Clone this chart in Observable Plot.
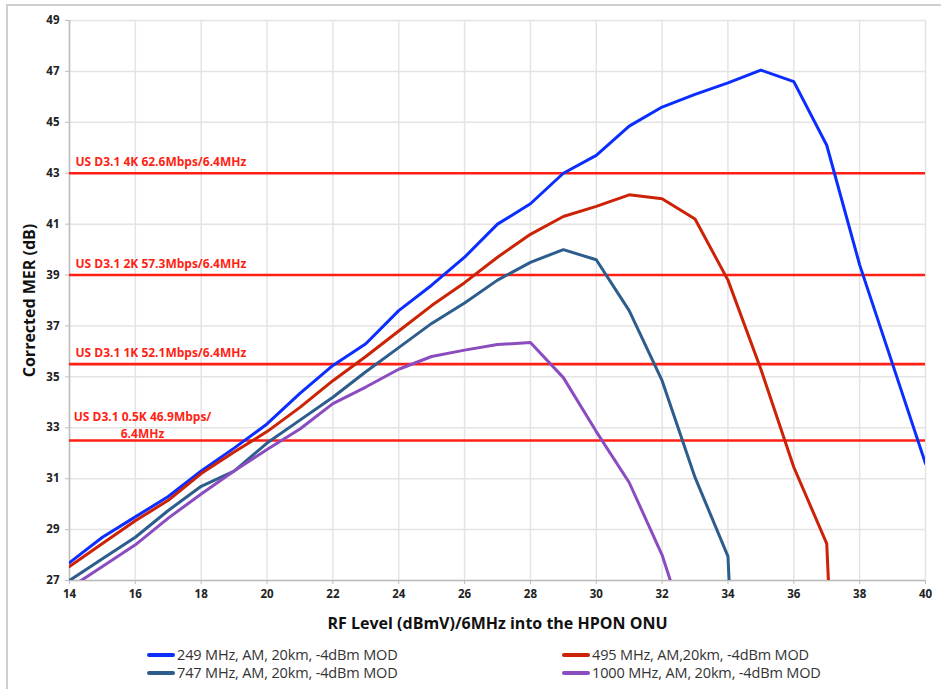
<!DOCTYPE html>
<html>
<head>
<meta charset="utf-8">
<script src="https://cdn.jsdelivr.net/npm/d3@7"></script>
<script src="https://cdn.jsdelivr.net/npm/@observablehq/plot@0.6"></script>
<style>
  html, body { margin: 0; padding: 0; background: #fff; }
  #wrap { position: relative; width: 941px; height: 689px; overflow: hidden; font-family: "Open Sans", sans-serif; }
  #frame { position: absolute; left: 6px; top: 4px; width: 960px; height: 700px; border-left: 2px solid #cfcfcf; border-top: 2px solid #cfcfcf; }
  #chart { position: absolute; left: 0; top: 0; }
  .leg { position: absolute; font-family: "Open Sans", sans-serif; font-size: 14.5px; color: #333; white-space: nowrap; line-height: 16px; letter-spacing: -0.15px; }
  .leg span.sw { display: inline-block; width: 28px; height: 4px; border-radius: 2px; vertical-align: middle; margin-right: 2px; position: relative; top: -1px; }
</style>
</head>
<body>
<div id="wrap">
  <div id="frame"></div>
  <div id="chart"></div>
  <div id="legend"></div>
</div>
<script>
// x values (RF level, dBmV/6MHz)
const rfLevels = [14,15,16,17,18,19,20,21,22,23,24,25,26,27,28,29,30,31,32,33,34,35,36,37,38,39,40];

// Corrected MER (dB) per series, index-aligned with rfLevels
const mer249 = [27.7,28.7,29.5,30.3,31.3,32.2,33.15,34.35,35.45,36.3,37.6,38.6,39.7,41.0,41.8,43.0,43.7,44.85,45.6,46.1,46.55,47.05,46.6,44.1,39.4,35.5,31.6];
const mer495 = [27.55,28.45,29.35,30.15,31.2,32.05,32.85,33.8,34.85,35.8,36.8,37.8,38.7,39.7,40.6,41.3,41.7,42.15,42.0,41.2,38.8,35.3,31.45,28.45,0];
const mer747 = [27.0,27.85,28.7,29.75,30.7,31.3,32.4,33.3,34.2,35.2,36.15,37.1,37.9,38.8,39.5,40.0,39.6,37.6,34.85,31.05,27.95,0];
const mer1000 = [26.7,27.55,28.4,29.45,30.4,31.3,32.15,32.95,33.95,34.6,35.3,35.8,36.05,36.27,36.35,34.97,32.85,30.85,28.0,24.0];

const seriesNames = [
  "249 MHz, AM, 20km, -4dBm MOD",
  "495 MHz, AM,20km, -4dBm MOD",
  "747 MHz, AM, 20km, -4dBm MOD",
  "1000 MHz, AM, 20km, -4dBm MOD"
];
const seriesColors = ["#0b2eff", "#cc2206", "#2c5d8c", "#8a4cbf"];
const seriesValues = [mer249, mer495, mer747, mer1000];

// Thresholds
const thresholdLevels = [43, 39, 35.5, 32.5];
const thresholdLabels = [
  "US D3.1 4K 62.6Mbps/6.4MHz",
  "US D3.1 2K 57.3Mbps/6.4MHz",
  "US D3.1 1K 52.1Mbps/6.4MHz",
  "US D3.1 0.5K 46.9Mbps/\n6.4MHz"
];

const xTicks = [14,16,18,20,22,24,26,28,30,32,34,36,38,40];
const yTicks = [27,29,31,33,35,37,39,41,43,45,47,49];

const rows = [];
seriesValues.forEach((vals, si) => {
  vals.forEach((v, i) => rows.push({series: seriesNames[si], x: rfLevels[i], y: v}));
});
const thr = thresholdLevels.map((y, i) => ({y, label: thresholdLabels[i]}));

const chart = Plot.plot({
  width: 941,
  height: 620,
  marginLeft: 69,
  marginRight: 16,
  marginTop: 20,
  marginBottom: 40,
  style: {fontFamily: "'Open Sans', sans-serif", background: "transparent", overflow: "visible"},
  x: {domain: [14, 40], ticks: xTicks},
  y: {domain: [27, 49], ticks: yTicks},
  color: {domain: seriesNames, range: seriesColors},
  marks: [
    Plot.gridX(xTicks, {stroke: "#e4e4e4", strokeOpacity: 1, strokeWidth: 1.5}),
    Plot.gridY(yTicks, {stroke: "#e4e4e4", strokeOpacity: 1, strokeWidth: 1.5}),
    Plot.ruleX([14], {stroke: "#bdbdbd", strokeWidth: 1.5}),
    Plot.ruleY([27], {stroke: "#bdbdbd", strokeWidth: 1.5}),
    Plot.axisX(xTicks, {tickSize: 4, stroke: "#bdbdbd", tickPadding: 5, fontSize: 11.5, fontWeight: "bold", fill: "#222",
      label: "RF Level (dBmV)/6MHz into the HPON ONU", labelAnchor: "center", labelArrow: "none", labelOffset: 48}),
    Plot.axisY(yTicks, {tickSize: 4, stroke: "#bdbdbd", tickPadding: 6, fontSize: 11.5, fontWeight: "bold", fill: "#222",
      label: "Corrected MER (dB)", labelAnchor: "center", labelArrow: "none", labelOffset: 46}),
    Plot.ruleY(thr, {y: "y", stroke: "#ff1f14", strokeWidth: 2.6}),
    Plot.text(thr.slice(0, 3), {x: 14, y: "y", text: "label", textAnchor: "start", dx: 6, dy: -11, fill: "#ff1f14", fontWeight: "bold", fontSize: 12}),
    Plot.text(thr.slice(3), {x: 14, y: "y", text: "label", textAnchor: "middle", lineAnchor: "bottom", dx: 73, dy: -3, fill: "#ff1f14", fontWeight: "bold", fontSize: 12, lineHeight: 1.4}),
    Plot.line(rows, {x: "x", y: "y", z: "series", stroke: "series", strokeWidth: 3, clip: true, strokeLinejoin: "miter"})
  ]
});
// style axis labels
chart.querySelectorAll("[aria-label='x-axis label'] text, [aria-label='y-axis label'] text").forEach(t => {
  t.setAttribute("font-size", "16");
  t.setAttribute("font-weight", "bold");
  t.setAttribute("fill", "#111");
});
document.getElementById("chart").append(chart);

// legend
const legendPos = [[147, 647], [562, 647], [147, 665], [562, 665]];
const legend = document.getElementById("legend");
seriesNames.forEach((name, i) => {
  const d = document.createElement("div");
  d.className = "leg";
  d.style.left = legendPos[i][0] + "px";
  d.style.top = legendPos[i][1] + "px";
  d.innerHTML = `<span class="sw" style="background:${seriesColors[i]}"></span>${name}`;
  legend.append(d);
});
</script>
</body>
</html>
